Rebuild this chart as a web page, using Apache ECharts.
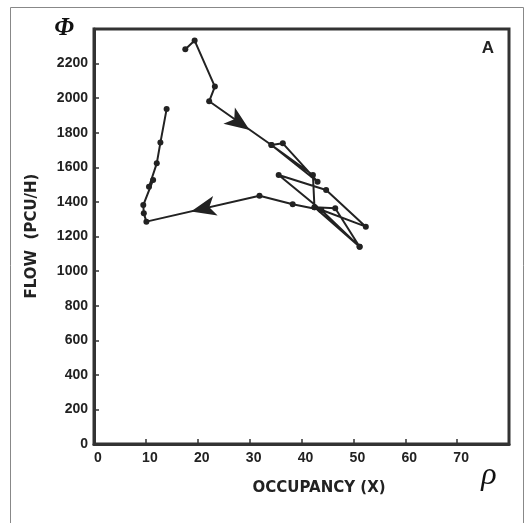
<!DOCTYPE html>
<html>
<head>
<meta charset="utf-8">
<script src="https://cdn.jsdelivr.net/npm/echarts@6/dist/echarts.min.js"></script>
<style>
html,body{margin:0;padding:0;background:#fff;}
#chart{width:528px;height:523px;}
</style>
</head>
<body>
<div id="chart"></div>
<script>
// Path of the flow–occupancy trajectory, in drawing order
var occupancy = [17.6, 19.4, 23.3, 22.2, 34.2, 43.1, 36.4, 34.2, 42.2, 42.5, 51.2, 43.8, 35.6, 44.75, 52.4, 42.5, 46.5, 51.2, 43.8, 38.3, 31.9, 10.1, 9.6, 9.5, 11.4, 10.6, 12.1, 12.8, 14.0];
var flow      = [2283, 2333, 2067, 1982, 1729, 1517, 1739, 1729, 1556, 1369, 1141, 1353, 1556, 1469, 1257, 1369, 1363, 1141, 1353, 1386, 1436, 1286, 1334, 1382, 1527, 1488, 1623, 1743, 1937];
// Direction arrows (position on the path, pointing angle)
var arrowOcc = [30.0, 18.7];
var arrowFlow = [1816, 1345];
var arrowRot = [-125, 103];
var xTicks = [0, 10, 20, 30, 40, 50, 60, 70];
var yTicks = [0, 200, 400, 600, 800, 1000, 1200, 1400, 1600, 1800, 2000, 2200];

var ink = '#222';
var pathData = occupancy.map(function (x, i) { return [x, flow[i]]; });
var arrows = arrowOcc.map(function (x, i) {
  return { coord: [x, arrowFlow[i]], symbolRotate: arrowRot[i] };
});

var chart = echarts.init(document.getElementById('chart'), null, { renderer: 'canvas' });
var labelFont = { color: ink, fontFamily: 'Liberation Sans, Arial, sans-serif', fontWeight: 'bold', fontSize: 14 };
var titleFont = 'bold 15px "DejaVu Sans", sans-serif';

chart.setOption({
  animation: false,
  backgroundColor: '#fff',
  grid: { left: 94, top: 29, right: 19, bottom: 79, show: true, borderColor: '#333', borderWidth: 3, backgroundColor: 'transparent' },
  xAxis: {
    type: 'value', min: 0, max: 80, interval: 10,
    axisLine: { show: true, lineStyle: { color: '#333', width: 3 } },
    axisTick: { show: true, inside: true, length: 5, lineStyle: { color: '#333', width: 1.5 } },
    splitLine: { show: false },
    axisLabel: Object.assign({}, labelFont, {
      margin: 7, padding: [0, 0, 0, 8],
      formatter: function (v) { return xTicks.indexOf(v) >= 0 ? String(v) : ''; }
    })
  },
  yAxis: {
    type: 'value', min: 0, max: 2400, interval: 200,
    axisLine: { show: true, lineStyle: { color: '#333', width: 3 } },
    axisTick: { show: true, inside: true, length: 5, lineStyle: { color: '#333', width: 1.5 } },
    splitLine: { show: false },
    axisLabel: Object.assign({}, labelFont, {
      margin: 6,
      formatter: function (v) { return yTicks.indexOf(v) >= 0 ? String(v) : ''; }
    })
  },
  series: [{
    type: 'line',
    data: pathData,
    symbol: 'circle',
    symbolSize: 6,
    showSymbol: true,
    itemStyle: { color: ink },
    lineStyle: { color: ink, width: 2 },
    markPoint: {
      symbol: 'arrow',
      symbolSize: [15, 25],
      itemStyle: { color: ink },
      label: { show: false },
      data: arrows
    }
  }],
  graphic: [
    { type: 'rect', left: 8, top: 5, shape: { width: 513, height: 530 }, style: { fill: 'none', stroke: '#888', lineWidth: 1 }, silent: true, z: -1 },
    { type: 'text', rotation: Math.PI / 2, style: { text: 'FLOW  (PCU/H)', fill: ink, font: titleFont, textAlign: 'center', textVerticalAlign: 'middle' }, x: 32, y: 236 },
    { type: 'text', style: { text: 'OCCUPANCY (X)', fill: ink, font: titleFont, textAlign: 'center', textVerticalAlign: 'middle' }, x: 319, y: 488 },
    { type: 'text', style: { text: 'Φ', fill: '#111', font: 'italic bold 25px "Liberation Serif", "DejaVu Serif", serif', textAlign: 'center', textVerticalAlign: 'middle' }, x: 64, y: 29 },
    { type: 'text', style: { text: 'ρ', fill: '#111', font: 'italic 32px "Liberation Serif", "DejaVu Serif", serif', textAlign: 'center', textVerticalAlign: 'middle' }, x: 489, y: 476 },
    { type: 'text', style: { text: 'A', fill: ink, font: 'bold 17px "Liberation Sans", Arial, sans-serif', textAlign: 'center', textVerticalAlign: 'middle' }, x: 488, y: 48 }
  ]
});
</script>
</body>
</html>
